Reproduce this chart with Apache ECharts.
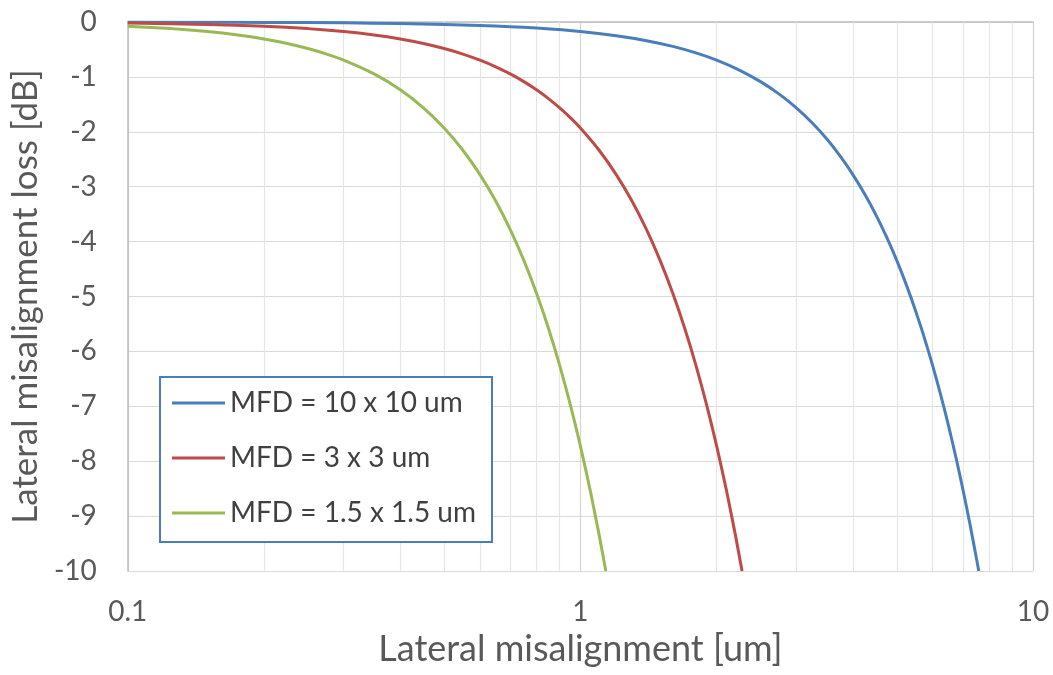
<!DOCTYPE html>
<html>
<head>
<meta charset="utf-8">
<script src="https://cdn.jsdelivr.net/npm/echarts@6/dist/echarts.min.js"></script>
<style>html,body{margin:0;padding:0;background:#fff;}#c{width:1053px;height:675px;}</style>
</head>
<body>
<div id="c"></div>
<script>
var seriesNames = ['MFD = 10 x 10 um', 'MFD = 3 x 3 um', 'MFD = 1.5 x 1.5 um'];
var xTickLabels = ['0.1', '1', '10'];
var minorGridX = [0.2,0.3,0.4,0.5,0.6,0.7,0.8,0.9,2,3,4,5,6,7,8,9];

var blueX = [0.1,0.15,0.2,0.3,0.4,0.5,0.6,0.7,0.8,1,1.2,1.4,1.6,1.8,2,2.25,2.5,2.75,3,3.25,3.5,3.75,4,4.25,4.5,4.75,5,5.25,5.5,5.75,6,6.25,6.5,6.75,7,7.25,7.5,7.59];
var blueY = [-0.0017,-0.0039,-0.0069,-0.0156,-0.0278,-0.0434,-0.0625,-0.0851,-0.1112,-0.1737,-0.2502,-0.3405,-0.4447,-0.5629,-0.6949,-0.8795,-1.0858,-1.3138,-1.5635,-1.8349,-2.1281,-2.4429,-2.7795,-3.1378,-3.5178,-3.9195,-4.3430,-4.7882,-5.2550,-5.7437,-6.2539,-6.7859,-7.3397,-7.9152,-8.5123,-9.1312,-9.7718,-10.0];

var redX = [0.1,0.15,0.2,0.25,0.3,0.35,0.4,0.45,0.5,0.55,0.6,0.65,0.7,0.75,0.8,0.85,0.9,0.95,1,1.1,1.2,1.3,1.4,1.5,1.6,1.7,1.8,1.9,2,2.1,2.2,2.276];
var redY = [-0.0193,-0.0434,-0.0772,-0.1206,-0.1737,-0.2364,-0.3088,-0.3909,-0.4826,-0.5839,-0.6949,-0.8155,-0.9458,-1.0857,-1.2353,-1.3946,-1.5635,-1.7420,-1.9302,-2.3355,-2.7795,-3.2620,-3.7832,-4.3430,-4.9413,-5.5783,-6.2538,-6.9680,-7.7208,-8.5122,-9.3422,-10.0];

var greenX = [0.1,0.125,0.15,0.175,0.2,0.225,0.25,0.275,0.3,0.35,0.4,0.45,0.5,0.55,0.6,0.65,0.7,0.75,0.8,0.85,0.9,0.95,1,1.05,1.1,1.138];
var greenY = [-0.0772,-0.1206,-0.1737,-0.2364,-0.3088,-0.3909,-0.4826,-0.5839,-0.6949,-0.9458,-1.2353,-1.5635,-1.9302,-2.3356,-2.7795,-3.2621,-3.7832,-4.3430,-4.9414,-5.5783,-6.2539,-6.9681,-7.7209,-8.5123,-9.3423,-10.0];

var colors = ['#4a7ebb', '#be4b48', '#98b954'];
var FONT = 'Lato';

function pairs(xs, ys) { return xs.map(function (x, i) { return [x, ys[i]]; }); }

var chart = echarts.init(document.getElementById('c'), null, {renderer: 'canvas'});

function mkLine(name, xs, ys, color) {
  return {
    name: name, type: 'line', data: pairs(xs, ys),
    showSymbol: false, symbol: 'none', smooth: 0.2, z: 3,
    lineStyle: {color: color, width: 3}, itemStyle: {color: color}
  };
}

var option = {
  animation: false,
  textStyle: {fontFamily: FONT},
  grid: {left: 126, right: 20, top: 22, bottom: 104, containLabel: false},
  xAxis: {
    type: 'log', logBase: 10, min: 0.1, max: 10,
    name: 'Lateral misalignment [um]', nameLocation: 'middle', nameGap: 58,
    nameTextStyle: {fontFamily: FONT, fontSize: 36, color: '#595959'},
    axisLine: {show: true, lineStyle: {color: '#bfbfbf', width: 1.5}},
    axisTick: {show: false},
    axisLabel: {fontFamily: FONT, fontSize: 28, color: '#595959', margin: 27,
      formatter: function (v) { var s = String(+v.toPrecision(3)); return xTickLabels.indexOf(s) >= 0 ? s : ''; }},
    splitLine: {show: true, lineStyle: {color: '#d4d4d4', width: 1.2}}
  },
  yAxis: {
    type: 'value', min: -10, max: 0, interval: 1,
    name: 'Lateral misalignment loss [dB]', nameLocation: 'middle', nameGap: 83,
    nameTextStyle: {fontFamily: FONT, fontSize: 35, color: '#595959'},
    axisLine: {show: true, lineStyle: {color: '#bfbfbf', width: 1.5}},
    axisTick: {show: false},
    axisLabel: {fontFamily: FONT, fontSize: 28, color: '#595959', margin: 31},
    splitLine: {show: true, lineStyle: {color: '#d9d9d9', width: 1.2}}
  },
  legend: {
    orient: 'vertical', left: 172, top: 389, padding: 0,
    itemWidth: 53, itemHeight: 3, itemGap: 27, z: 10,
    icon: 'rect',
    textStyle: {fontFamily: FONT, fontSize: 28, color: '#404040', lineHeight: 28},
    data: seriesNames.map(function (n) { return {name: n, icon: 'rect'}; })
  },
  graphic: [{
    type: 'rect', z: 8, silent: true,
    shape: {x: 160, y: 377, width: 332, height: 165},
    style: {fill: '#ffffff', stroke: '#4a7ebb', lineWidth: 2}
  }],
  series: [
    {
      name: 'minorGrid', type: 'line', data: [], silent: true, z: 1,
      markLine: {
        silent: true, z: 1, zlevel: 0, symbol: ['none', 'none'], label: {show: false},
        lineStyle: {color: '#e6e6e6', width: 1.2, type: 'solid'},
        data: minorGridX.map(function (v) { return {xAxis: v}; })
      }
    },
    mkLine(seriesNames[0], blueX, blueY, colors[0]),
    mkLine(seriesNames[1], redX, redY, colors[1]),
    mkLine(seriesNames[2], greenX, greenY, colors[2])
  ]
};
chart.setOption(option);
</script>
</body>
</html>
